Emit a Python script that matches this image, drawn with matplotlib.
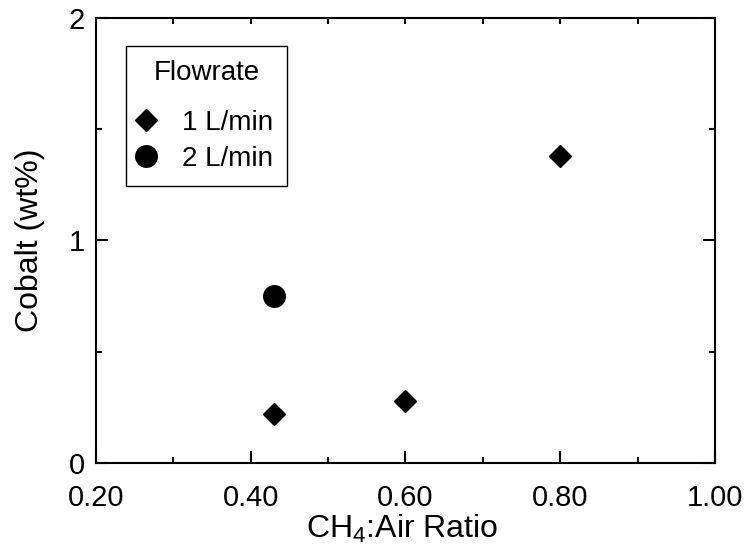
import numpy as np
import matplotlib
matplotlib.use('Agg')
from matplotlib import pyplot as plt
from matplotlib.ticker import MultipleLocator, FormatStrFormatter

plt.rcParams['font.family'] = ['Liberation Sans', 'DejaVu Sans']
plt.rcParams['mathtext.default'] = 'regular'

# cobalt loading vs CH4:air ratio, per flowrate
ratio_1lpm = [0.43, 0.60, 0.80]
cobalt_1lpm = [0.22, 0.28, 1.38]
ratio_2lpm = [0.43]
cobalt_2lpm = [0.75]

fig = plt.figure(figsize=(7.48, 5.5), dpi=100)
ax = fig.add_axes([0.1283, 0.1582, 0.8276, 0.8091])

ax.plot(ratio_1lpm, cobalt_1lpm, 'D', color='black', ms=11, ls='none', label='1 L/min')
ax.plot(ratio_2lpm, cobalt_2lpm, 'o', color='black', ms=15.5, ls='none', label='2 L/min')

ax.set_xlim(0.2, 1.0)
ax.set_ylim(0, 2)
ax.xaxis.set_major_locator(MultipleLocator(0.2))
ax.xaxis.set_minor_locator(MultipleLocator(0.1))
ax.xaxis.set_major_formatter(FormatStrFormatter('%.2f'))
ax.yaxis.set_major_locator(MultipleLocator(1))
ax.yaxis.set_minor_locator(MultipleLocator(0.5))

for sp in ax.spines.values():
    sp.set_linewidth(1.5)
ax.tick_params(which='both', direction='in', width=1.5, labelsize=21,
               left=True, right=True, bottom=True, top=False)
ax.tick_params(which='major', length=8.5)
ax.tick_params(which='minor', length=4.3)
ax.tick_params(axis='x', which='major', pad=15)
ax.tick_params(axis='y', which='major', pad=8)

# short ticks along the top edge
top = ax.secondary_xaxis('top')
top.set_xticks(np.arange(0.3, 1.0, 0.1))
top.tick_params(direction='in', length=4.3, width=1.5, labeltop=False)
top.spines['top'].set_visible(False)

ax.set_xlabel('CH$_4$:Air Ratio', fontsize=23, va='top')
ax.xaxis.set_label_coords(0.495, -0.112)
ax.set_ylabel('Cobalt (wt%)', fontsize=23)
ax.yaxis.set_label_coords(-0.082, 0.5)

leg = ax.legend(title='Flowrate', loc='upper left', bbox_to_anchor=(0.0485, 0.937),
                borderaxespad=0, fontsize=20, title_fontsize=20, fancybox=False,
                edgecolor='black', framealpha=1, handlelength=0.43, handletextpad=1.08,
                labelspacing=0.38, borderpad=0.5, numpoints=1)
leg.get_frame().set_linewidth(1.0)
leg._legend_box.sep = 17  # wider gap under the title

fig.savefig('out.png', dpi=100)
